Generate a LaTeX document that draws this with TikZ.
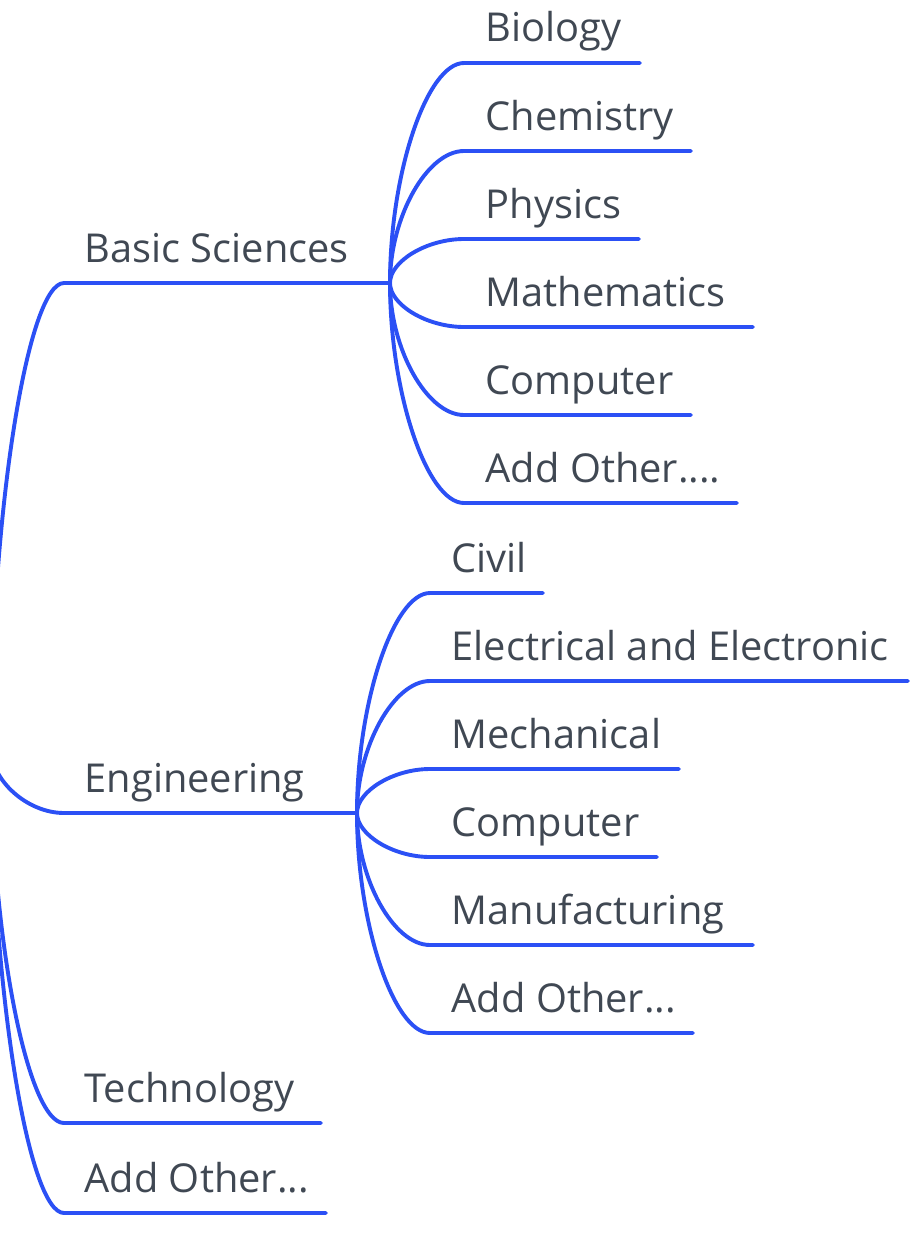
\documentclass[tikz,border=0pt]{standalone}
\usepackage{fontspec}
\setmainfont{Open Sans}
\usetikzlibrary{calc}
\definecolor{linkblue}{HTML}{2B50F5}
\definecolor{txtgrey}{HTML}{404853}
\tikzset{
  topic/.style={anchor=base west, inner sep=0pt, text=txtgrey, font=\fontsize{39.8}{48}\selectfont},
  link/.style={draw=linkblue, line width=3.9pt, line cap=round},
  branch/.style={to path={let \p1=(\tikztostart), \p2=(\tikztotarget) in
     .. controls (\x1,{0.5*(\y1+\y2)}) and ({0.5*(\x1+\x2)},\y2) .. (\tikztotarget)}}
}
\newcommand{\aoA}{Add Other...}
\newcommand{\aoB}{Add Other....}
\begin{document}
\begin{tikzpicture}[x=1pt,y=-1pt]
\useasboundingbox (0,0) rectangle (918,1255);
\coordinate (root) at (-9,748);
% level 1
\foreach \id/\y/\e/\t in {bs/283/390/{Basic Sciences}, en/813/357/{Engineering}, te/1123/321/{Technology}, ao/1213/326/{\aoA}}{
  \coordinate (\id-s) at (64,\y);
  \coordinate (\id-e) at (\e,\y);
  \node[topic] (\id) at (84.5,\y-21) {\t};
}
\foreach \id in {bs,en,te,ao}{
  \draw[link] (root) to[branch] (\id-s) -- (\id-e);
}
% Basic Sciences children
\foreach \id/\y/\e/\t in {bio/63/640/{Biology}, che/151/691/{Chemistry}, phy/239/639/{Physics}, mat/327/753/{Mathematics}, com/415/691/{Computer}, bao/503/737/{\aoB}}{
  \coordinate (\id-s) at (464,\y);
  \coordinate (\id-e) at (\e,\y);
  \node[topic] (\id) at (485.5,\y-21) {\t};
  \draw[link] (bs-e) to[branch] (\id-s) -- (\id-e);
}
% Engineering children
\foreach \id/\y/\e/\t in {civ/593/543/{Civil}, ele/681/908/{Electrical and Electronic}, mec/769/679/{Mechanical}, cmp/857/657/{Computer}, man/945/753/{Manufacturing}, eao/1033/693/{\aoA}}{
  \coordinate (\id-s) at (430,\y);
  \coordinate (\id-e) at (\e,\y);
  \node[topic] (\id) at (451.5,\y-21) {\t};
  \draw[link] (en-e) to[branch] (\id-s) -- (\id-e);
}
\end{tikzpicture}
\end{document}
